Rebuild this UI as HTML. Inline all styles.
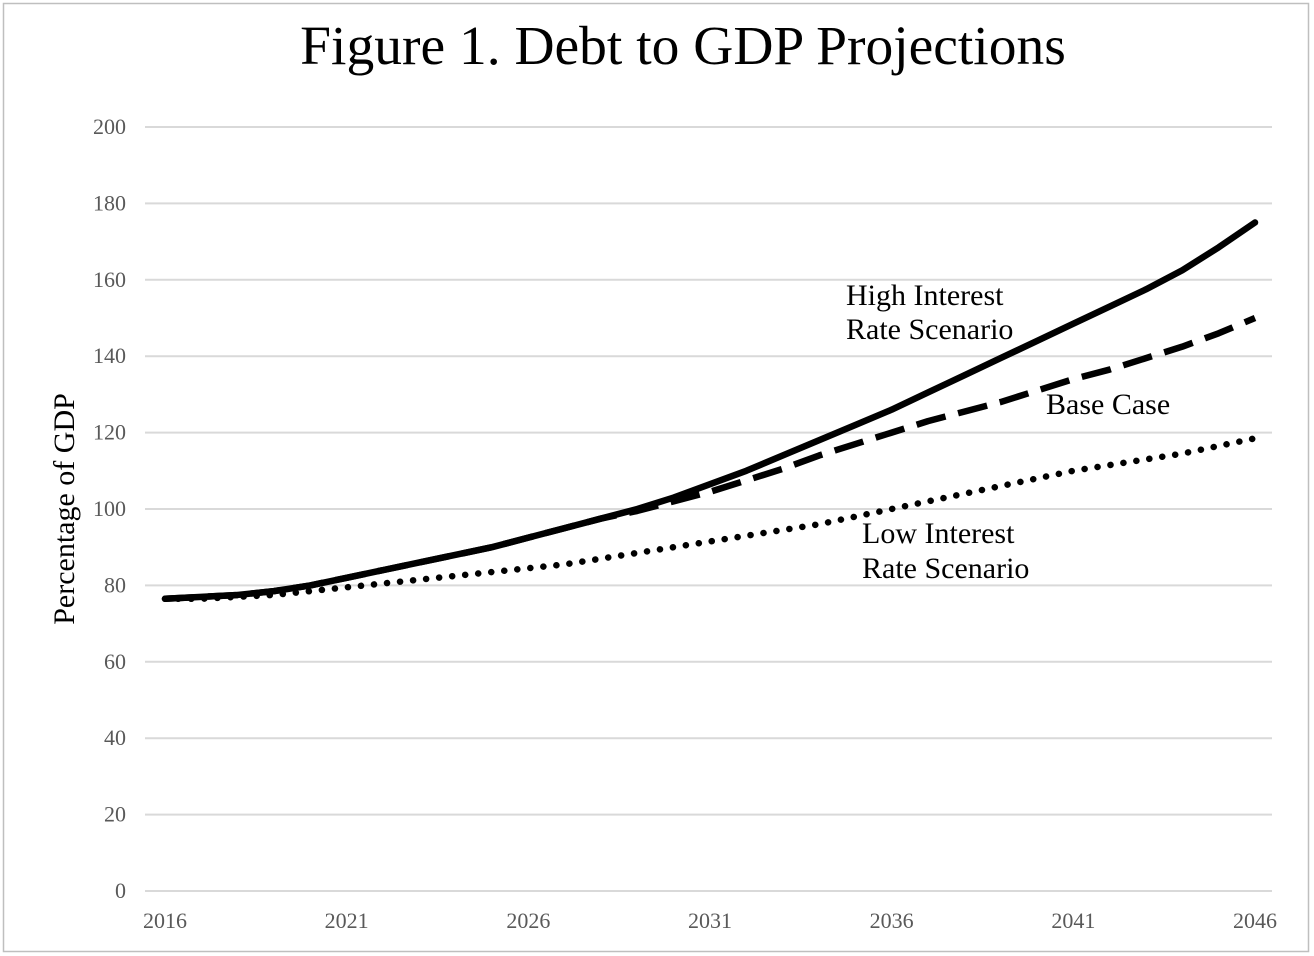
<!DOCTYPE html>
<html><head><meta charset="utf-8"><style>
html,body{margin:0;padding:0;background:#fff}
svg{display:block;font-family:"Liberation Serif",serif}
</style></head><body>
<svg width="1314" height="956" viewBox="0 0 1314 956">
<rect x="3.5" y="3.5" width="1305" height="948" fill="#fff" stroke="#bfbfbf" stroke-width="1.5"/>
<text x="683" y="64" font-size="55.5" text-anchor="middle" fill="#000">Figure 1. Debt to GDP Projections</text>
<text transform="translate(74,509) rotate(-90)" font-size="30" text-anchor="middle" fill="#000">Percentage of GDP</text>
<g id="grid"></g><g id="series"></g>
<text x="846" y="305" font-size="30">High Interest</text>
<text x="846" y="339" font-size="30">Rate Scenario</text>
<text x="1046" y="414" font-size="30">Base Case</text>
<text x="862" y="543" font-size="30">Low Interest</text>
<text x="862" y="578" font-size="30">Rate Scenario</text>
</svg>
<script>
const years=[2016,2017,2018,2019,2020,2021,2022,2023,2024,2025,2026,2027,2028,2029,2030,2031,2032,2033,2034,2035,2036,2037,2038,2039,2040,2041,2042,2043,2044,2045,2046];
const highVals=[76.5,77,77.5,78.5,80,82,84,86,88,90,92.5,95,97.5,100,103,106.5,110,114,118,122,126,130.5,135,139.5,144,148.5,153,157.5,162.5,168.5,175];
const baseVals=[76.5,77,77.5,78.5,80,82,84,86,88,90,92.5,95,97.5,99.5,102,104.5,107.5,110.5,114,117,120,123,125.5,128,131,134,136.5,139.5,142.5,146,150];
const lowVals=[76.5,76.5,77,77.5,78.5,79.5,80.5,81.5,82.5,83.5,84.5,85.5,87,88.5,90,91.5,93,94.5,96,98,100,102,104,106,108,110,111.5,113,114.5,116.5,118.5];
const yTicks=[0,20,40,60,80,100,120,140,160,180,200];
const xTicks=[2016,2021,2026,2031,2036,2041,2046];
const NS="http://www.w3.org/2000/svg";
const X=v=>165+(v-2016)*(1255-165)/30;
const Y=v=>891-v*(891-127)/200;
const grid=document.getElementById('grid');
yTicks.forEach(t=>{
 const l=document.createElementNS(NS,'line');
 l.setAttribute('x1',145);l.setAttribute('x2',1272);l.setAttribute('y1',Y(t));l.setAttribute('y2',Y(t));
 l.setAttribute('stroke','#d9d9d9');l.setAttribute('stroke-width','2');
 
 
 grid.appendChild(l);
 const tx=document.createElementNS(NS,'text');
 tx.setAttribute('x',126);tx.setAttribute('y',Y(t)+7);tx.setAttribute('text-anchor','end');
 tx.setAttribute('font-size','22');tx.setAttribute('fill','#595959');tx.textContent=t;
 
 
 grid.appendChild(tx);
});
xTicks.forEach(t=>{
 const tx=document.createElementNS(NS,'text');
 tx.setAttribute('x',X(t));tx.setAttribute('y',928);tx.setAttribute('text-anchor','middle');
 tx.setAttribute('font-size','22');tx.setAttribute('fill','#595959');tx.textContent=t;
 
 
 grid.appendChild(tx);
});
const ser=document.getElementById('series');
function draw(vals,name,dash,cap){
 const p=document.createElementNS(NS,'polyline');
 p.setAttribute('points',vals.map((v,i)=>X(years[i])+','+Y(v)).join(' '));
 p.setAttribute('fill','none');p.setAttribute('stroke','#000');p.setAttribute('stroke-width','6.5');
 p.setAttribute('stroke-linejoin','round');p.setAttribute('stroke-linecap',cap);
 if(dash)p.setAttribute('stroke-dasharray',dash);
 
 
 ser.appendChild(p);
}
draw(lowVals,'low-rate-line','0.1 13','round');
draw(baseVals,'base-case-line','30 13','butt');
draw(highVals,'high-rate-line',null,'round');
</script>
</body></html>
